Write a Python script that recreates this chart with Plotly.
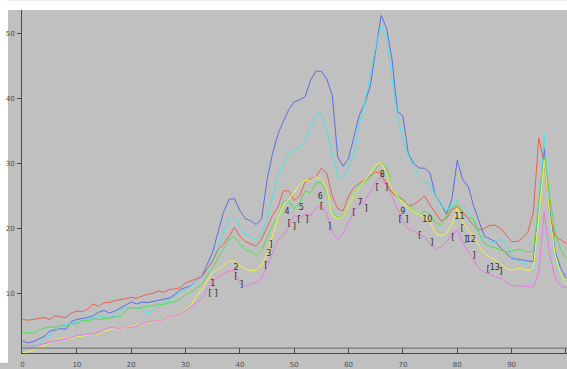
import plotly.graph_objects as go

# sample positions shared by every series
x_vals = list(range(0, 101))

blue = [2.7, 2.4, 2.6, 3.0, 3.4, 4.2, 4.4, 4.6, 4.5, 5.7, 6.0, 6.1, 6.3, 6.6, 7.1, 7.4, 7.0, 7.3, 7.8, 8.2,
        8.7, 8.4, 8.7, 8.6, 8.8, 9.0, 9.2, 9.3, 9.8, 10.6, 10.9, 11.2, 12.0, 12.6,
        14.5, 16.4, 19.5, 22.5, 24.5, 24.6, 22.8, 21.5, 21.2, 20.6, 21.5, 27.5, 31.5, 34.5, 36.5, 38.3,
        39.5, 39.8, 40.3, 42.8, 44.2, 44.2, 43.0, 40.5, 31.0, 29.6,
        30.8, 34.0, 37.5, 39.3, 42.0, 47.5, 52.8, 50.8, 46.0, 38.0, 37.3, 31.5, 30.0, 29.3, 29.3, 28.5,
        25.0, 23.8, 22.2, 24.5, 30.5, 27.5, 26.5, 23.5, 21.0, 18.8, 18.4, 18.0, 17.0, 16.2, 15.4, 15.3,
        15.1, 15.0, 14.9, 24.0, 32.3, 23.0, 16.5, 14.0, 12.4]

cyan = [1.3, 1.5, 1.8, 2.3, 2.9, 3.6, 4.2, 5.0, 5.2, 5.4, 5.6, 5.7, 6.0, 6.3, 6.6, 6.4, 6.3, 6.6, 7.4, 7.9,
        7.8, 7.9, 7.6, 7.0, 7.4, 8.1, 8.5, 9.0, 9.6, 10.2, 10.6, 11.2, 12.0, 12.6,
        13.6, 15.2, 17.2, 19.5, 21.5, 21.8, 20.3, 19.2, 18.8, 18.3, 19.0, 21.5, 25.0, 28.0, 30.0, 31.5,
        32.0, 32.5, 33.5, 35.5, 37.5, 37.8, 35.0, 31.5, 28.0,
        27.8, 29.5, 31.5, 36.0, 39.5, 43.5, 48.0, 51.2, 49.5, 43.0, 37.5, 33.5, 31.2, 29.5, 28.0, 27.3,
        26.8, 25.0, 23.6, 22.8, 23.6, 24.4, 23.5, 22.6, 21.2, 19.2, 18.0, 17.9, 17.9, 18.4, 17.5, 16.0,
        15.0, 14.7, 14.4, 13.5, 22.0, 34.5, 22.0, 15.5, 13.0, 11.4]

red = [6.0, 5.9, 6.0, 6.1, 6.3, 6.0, 6.6, 6.4, 6.3, 7.0, 7.3, 7.2, 7.6, 8.4, 8.0, 8.6, 8.6, 8.9, 9.0, 9.2,
       9.4, 9.3, 9.6, 9.9, 10.0, 10.4, 10.2, 10.6, 10.7, 10.9, 11.6, 11.9, 12.3, 12.6,
       13.8, 15.0, 16.8, 17.6, 18.8, 20.2, 18.8, 18.0, 17.6, 17.3, 18.4, 20.2, 22.0, 23.3, 25.8, 25.8,
       24.3, 25.0, 27.2, 27.6, 28.0,
       29.3, 28.5, 25.0, 23.0, 22.7, 25.0, 26.3, 27.0, 27.5, 28.2, 28.7, 28.5, 26.8, 25.5, 25.0, 24.5,
       23.5, 23.7, 24.3, 25.0, 23.6, 22.3, 21.2, 21.5, 23.0, 23.3, 22.5, 21.5, 20.5, 19.8, 20.0, 20.5,
       20.5, 20.0, 19.0, 18.0, 18.0, 18.5, 19.5, 22.5, 34.0, 30.0, 22.0, 18.8, 18.3, 17.7]

green = [4.0, 3.9, 3.9, 4.4, 4.6, 4.9, 4.7, 5.1, 5.0, 5.4, 5.3, 5.9, 5.8, 6.1, 6.0, 6.1, 6.3, 6.4, 6.5, 7.4,
         7.9, 7.7, 7.9, 8.0, 8.1, 8.4, 8.3, 8.6, 8.7, 9.1, 9.8, 10.2, 10.8, 11.4,
         12.8, 14.0, 15.5, 17.0, 18.3, 18.8, 17.6, 16.7, 16.5, 15.9, 16.7, 18.5, 20.5, 21.8, 24.2, 24.3,
         23.0, 24.0, 25.8, 25.5, 27.0, 27.2, 25.5, 22.5,
         21.6, 22.0, 23.5, 25.3, 26.7, 27.2, 27.8, 29.2, 30.2, 29.5, 25.8, 24.8, 24.4, 23.6, 22.8, 22.0,
         22.7, 22.2, 20.8, 20.6, 22.0, 23.3, 23.7, 22.6, 21.7, 21.5, 19.2, 17.6, 17.3, 17.0, 16.6, 16.4,
         16.5, 16.8, 16.6, 16.4, 16.5, 24.0, 31.0, 25.0, 19.5, 16.8, 15.4]

yellow = [0.8, 1.0, 1.3, 1.6, 2.0, 2.4, 2.8, 3.1, 3.2, 3.1, 3.3, 3.4, 3.6, 3.9, 3.7, 4.2, 4.4, 4.6, 4.6, 4.8,
          4.9, 5.2, 5.4, 5.6, 5.8, 5.9, 6.0, 6.3, 6.6, 7.0, 7.6, 8.2, 9.6, 10.6,
          12.0, 13.2, 13.8, 14.3, 15.0, 15.0, 14.3, 13.8, 13.5, 13.6, 14.3, 16.2, 18.8, 21.8, 23.6, 24.5,
          25.6, 26.8, 27.4, 27.3, 28.0, 27.5, 26.0,
          22.0, 21.5, 21.8, 23.5, 25.2, 26.4, 27.4, 28.5, 29.8, 30.2, 28.5, 26.0, 25.0, 23.8, 23.3, 22.6,
          22.1, 21.8, 21.0, 19.2, 18.9, 19.2, 20.6, 23.2, 21.0, 19.8, 18.9, 17.3, 16.1, 15.6, 15.1, 14.6,
          13.9, 13.6, 13.8, 13.8, 13.5, 13.8, 22.0, 30.5, 22.0, 16.0, 13.0, 11.4]

magenta = [2.0, 1.9, 1.9, 2.1, 2.3, 2.5, 2.7, 3.0, 3.1, 3.2, 3.6, 3.6, 3.7, 3.9, 4.0, 4.4, 4.8, 4.7, 4.6, 4.9,
           4.8, 5.0, 5.4, 5.6, 5.8, 5.8, 6.0, 6.4, 6.7, 6.9, 7.4, 7.9, 8.6, 9.2,
           10.8, 11.9, 12.5, 13.0, 13.5, 13.5, 11.6, 11.1, 11.5, 11.7, 12.4, 14.2, 16.2, 18.2, 19.0, 20.3,
           22.0, 21.7, 22.2, 22.0, 23.2, 23.6, 22.2, 19.5, 18.3,
           19.2, 21.0, 22.6, 23.7, 24.3, 25.6, 27.2, 28.0, 26.5, 25.0, 23.0, 21.1, 19.9, 19.6, 19.1, 18.7,
           17.7, 16.9, 17.2, 17.9, 19.0, 19.8, 17.8, 16.5, 15.0, 13.9, 13.3, 12.9, 12.6, 12.3, 11.7, 11.2,
           11.2, 11.1, 11.0, 11.0, 13.2, 22.5, 16.0, 12.5, 11.2, 10.9]

# numbered peak markers and their interval brackets
peak_labels = ["1", "2", "3", "4", "5", "6", "7", "8", "9", "10", "11", "12", "13"]
peak_x = [35.0, 39.3, 45.3, 48.7, 51.3, 54.8, 62.1, 66.2, 70.0, 74.5, 80.4, 82.5, 86.9]
peak_y = [11.4, 14.0, 16.1, 22.5, 23.2, 24.8, 24.0, 28.2, 22.6, 21.3, 21.7, 18.2, 13.9]
open_x = [34.5, 39.3, 44.8, 49.1, 50.9, 55.0, 61.0, 65.3, 69.5, 73.1, 79.2, 80.9, 85.7]
open_y = [10.0, 12.6, 14.3, 20.7, 21.3, 23.4, 22.4, 26.3, 21.4, 18.9, 18.6, 19.9, 13.6]
close_x = [35.6, 40.3, 45.7, 50.0, 52.3, 56.5, 63.2, 67.0, 70.7, 75.3, 81.5, 83.1, 88.0]
close_y = [10.0, 11.3, 17.5, 20.2, 21.3, 20.2, 23.0, 26.3, 21.4, 17.8, 18.2, 15.8, 13.3]

x_ticks = [0, 10, 20, 30, 40, 50, 60, 70, 80, 90, 100]
y_ticks = [10, 20, 30, 40, 50]

series = [
    ("blue", blue, "#5a6fe4"),
    ("cyan", cyan, "#48e4e4"),
    ("red", red, "#e8634e"),
    ("green", green, "#4fe04f"),
    ("yellow", yellow, "#f2f244"),
    ("magenta", magenta, "#e878e6"),
]

BG = "#c0c0c0"
AXIS = "#4a4a4a"
TEXT = "#303030"

fig = go.Figure()
for name, vals, color in series:
    fig.add_trace(go.Scatter(x=x_vals, y=vals, mode="lines", name=name,
                             line=dict(color=color, width=1), hoverinfo="skip"))

fig.add_trace(go.Scatter(x=peak_x, y=peak_y, mode="text", text=peak_labels,
                         textfont=dict(family="DejaVu Sans", size=8, color=TEXT),
                         hoverinfo="skip"))
fig.add_trace(go.Scatter(x=open_x, y=open_y, mode="text", text=["["] * len(open_x),
                         textfont=dict(family="DejaVu Sans", size=9, color=TEXT),
                         hoverinfo="skip"))
fig.add_trace(go.Scatter(x=close_x, y=close_y, mode="text", text=["]"] * len(close_x),
                         textfont=dict(family="DejaVu Sans", size=9, color=TEXT),
                         hoverinfo="skip"))

plot_h = 350.0
plot_w = 545.0
# white strips at the far left and top of the canvas
fig.add_shape(type="rect", xref="paper", yref="paper", x0=-22 / plot_w, x1=-14 / plot_w,
              y0=-10 / plot_h, y1=1 + 10 / plot_h, fillcolor="white", line_width=0, layer="below")
fig.add_shape(type="rect", xref="paper", yref="paper", x0=-22 / plot_w, x1=1.01,
              y0=1, y1=1 + 10 / plot_h, fillcolor="white", line_width=0, layer="below")
# thin rule just above the x axis
fig.add_shape(type="line", xref="paper", yref="paper", x0=0, x1=1,
              y0=5 / plot_h, y1=5 / plot_h, line=dict(color="#6a6a6a", width=1))

fig.update_layout(
    width=567, height=369,
    margin=dict(l=22, r=0, t=10, b=9),
    paper_bgcolor=BG, plot_bgcolor=BG,
    showlegend=False,
    xaxis=dict(range=[-0.09, 100.19], tickvals=x_ticks, ticktext=[str(v) for v in x_ticks],
               showgrid=False, zeroline=False, showline=True, linecolor=AXIS, linewidth=1,
               ticks="inside", ticklen=5, tickcolor=AXIS, tickwidth=1, ticklabelstandoff=5,
               tickfont=dict(family="DejaVu Sans", size=7, color="#505050")),
    yaxis=dict(range=[0.845, 53.63], tickvals=y_ticks, ticktext=[str(v) for v in y_ticks],
               showgrid=False, zeroline=False, showline=True, linecolor=AXIS, linewidth=1,
               ticks="outside", ticklen=4, tickcolor=AXIS, tickwidth=1, ticklabelstandoff=1,
               tickfont=dict(family="DejaVu Sans", size=7, color="#505050")),
)

fig.write_html("out.html")
